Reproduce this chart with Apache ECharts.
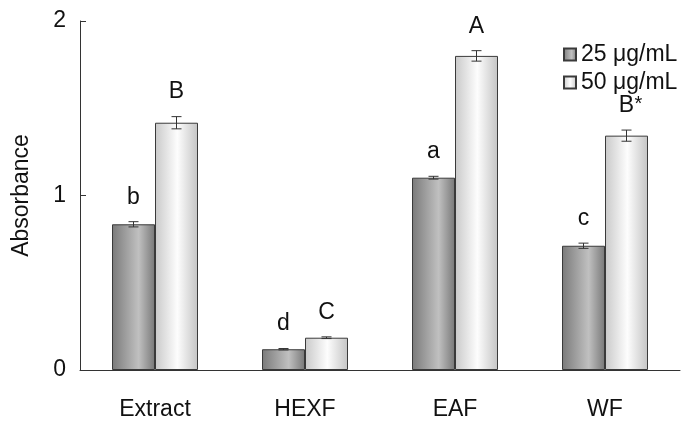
<!DOCTYPE html>
<html><head><meta charset="utf-8">
<script src="https://cdn.jsdelivr.net/npm/echarts@6/dist/echarts.min.js"></script>
<style>html,body{margin:0;padding:0;background:#fff}#c{width:681px;height:422px}</style>
</head><body><div id="c"></div>
<script>
var categories = ['Extract', 'HEXF', 'EAF', 'WF'];
var seriesNames = ['25 μg/mL', '50 μg/mL'];
var values25 = [0.835, 0.119, 1.102, 0.712];
var errors25 = [0.015, 0.004, 0.008, 0.015];
var letters25 = ['b', 'd', 'a', 'c'];
var values50 = [1.417, 0.185, 1.800, 1.343];
var errors50 = [0.035, 0.005, 0.030, 0.032];
var letters50 = ['B', 'C', 'A', 'B*'];
var yTicks = [0, 1, 2];

var FONT = '"Liberation Sans", Arial, sans-serif';
var FS = 23;
var BAR_W = 43;

function grad(edgeL, mid, edgeR, pos) {
  return new echarts.graphic.LinearGradient(0, 0, 1, 0, [
    {offset: 0, color: edgeL}, {offset: pos, color: mid}, {offset: 1, color: edgeR}
  ]);
}
var darkFill = grad('#7a7a7a', '#c0c0c0', '#787878', 0.62);
var lightFill = grad('#c9c9c9', '#fdfdfd', '#c4c4c4', 0.52);

function errSeries(vals, errs, letters, side) {
  var data = vals.map(function (v, i) { return [i, v, errs[i]]; });
  return {
    type: 'custom',
    silent: true,
    z: 10,
    data: data,
    renderItem: function (params, api) {
      var i = api.value(0), v = api.value(1), e = api.value(2);
      var lbl = letters[params.dataIndex];
      var c = api.coord([i, v]);
      var x = c[0] + side * BAR_W / 2;
      var yTop = api.coord([i, v + e])[1];
      var yBot = api.coord([i, v - e])[1];
      var cap = 5;
      var st = {stroke: '#333', lineWidth: 1};
      var children = [
        {type: 'line', shape: {x1: x, y1: yTop, x2: x, y2: yBot}, style: st},
        {type: 'line', shape: {x1: x - cap, y1: yTop, x2: x + cap, y2: yTop}, style: st},
        {type: 'line', shape: {x1: x - cap, y1: yBot, x2: x + cap, y2: yBot}, style: st}
      ];
      var base = lbl.replace('*', '');
      var ty = yTop - 13;
      children.push({type: 'text', style: {text: base, x: x, y: ty, textAlign: 'center', textVerticalAlign: 'bottom', font: FS + 'px ' + FONT, fill: '#111'}});
      if (lbl.indexOf('*') >= 0) {
        children.push({type: 'text', style: {text: '*', x: x + 8, y: ty - 3, textAlign: 'left', textVerticalAlign: 'bottom', font: '20px ' + FONT, fill: '#111'}});
      }
      return {type: 'group', children: children};
    }
  };
}

var chart = echarts.init(document.getElementById('c'), null, {renderer: 'canvas'});
chart.setOption({
  animation: false,
  backgroundColor: '#fff',
  grid: {left: 80, right: 1, top: 21, bottom: 52},
  legend: {
    orient: 'vertical', left: 558, top: 38,
    icon: 'rect',
    itemWidth: 12, itemHeight: 12, itemGap: 5,
    textStyle: {fontFamily: FONT, fontSize: FS, color: '#111'},
    data: seriesNames
  },
  xAxis: {
    type: 'category', data: categories,
    axisLine: {lineStyle: {color: '#333', width: 1}},
    axisTick: {inside: true, length: 6, lineStyle: {color: '#333'}},
    axisLabel: {fontFamily: FONT, fontSize: FS, color: '#111', margin: 28}
  },
  yAxis: {
    type: 'value', min: 0, max: 2, interval: 1,
    name: 'Absorbance', nameLocation: 'middle', nameGap: 47, nameRotate: 90,
    nameTextStyle: {fontFamily: FONT, fontSize: FS, color: '#111'},
    axisLine: {show: true, lineStyle: {color: '#333', width: 1}},
    axisTick: {show: true, inside: true, length: 6, lineStyle: {color: '#333'}},
    splitLine: {show: false},
    axisLabel: {fontFamily: FONT, fontSize: FS, color: '#111', margin: 14,
      formatter: function (v) { return yTicks.indexOf(v) >= 0 ? String(v) : ''; }}
  },
  series: [
    {name: seriesNames[0], type: 'bar', data: values25, barWidth: BAR_W, barGap: '0%',
      itemStyle: {color: darkFill, borderColor: '#3a3a3a', borderWidth: 1}},
    {name: seriesNames[1], type: 'bar', data: values50, barWidth: BAR_W, barGap: '0%',
      itemStyle: {color: lightFill, borderColor: '#3a3a3a', borderWidth: 1}},
    errSeries(values25, errors25, letters25, -1),
    errSeries(values50, errors50, letters50, 1)
  ]
});
</script></body></html>
